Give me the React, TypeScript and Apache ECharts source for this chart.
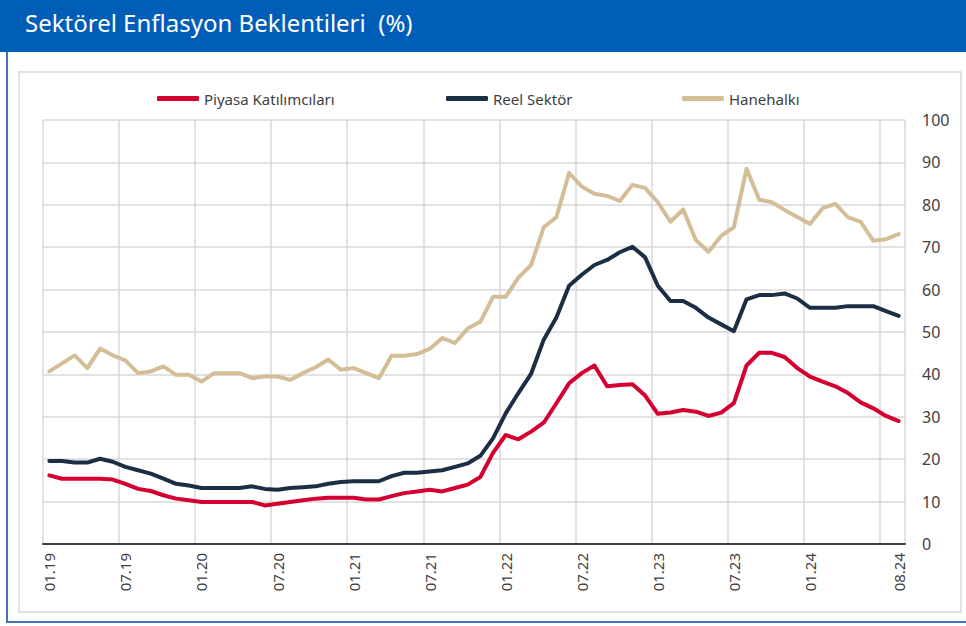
import React, { useEffect, useRef } from "react";
import * as echarts from "echarts";

const titleText = "Sektörel Enflasyon Beklentileri  (%)";

const categories = [
  "01.19","02.19","03.19","04.19","05.19","06.19","07.19","08.19","09.19","10.19","11.19","12.19",
  "01.20","02.20","03.20","04.20","05.20","06.20","07.20","08.20","09.20","10.20","11.20","12.20",
  "01.21","02.21","03.21","04.21","05.21","06.21","07.21","08.21","09.21","10.21","11.21","12.21",
  "01.22","02.22","03.22","04.22","05.22","06.22","07.22","08.22","09.22","10.22","11.22","12.22",
  "01.23","02.23","03.23","04.23","05.23","06.23","07.23","08.23","09.23","10.23","11.23","12.23",
  "01.24","02.24","03.24","04.24","05.24","06.24","07.24","08.24",
];

const shownLabels = [
  "01.19","07.19","01.20","07.20","01.21","07.21","01.22","07.22","01.23","07.23","01.24","08.24",
];

const yTicks = [0, 10, 20, 30, 40, 50, 60, 70, 80, 90, 100];

const piyasa = [
  16.2, 15.4, 15.4, 15.4, 15.4, 15.2, 14.2, 13.0, 12.5, 11.5, 10.7, 10.3,
  9.9, 9.9, 9.9, 9.9, 9.9, 9.1, 9.5, 9.9, 10.3, 10.7, 10.9, 10.9,
  10.9, 10.5, 10.5, 11.3, 12.0, 12.4, 12.8, 12.4, 13.2, 14.0, 15.8, 21.5,
  25.7, 24.7, 26.5, 28.6, 33.2, 37.9, 40.3, 42.1, 37.2, 37.5, 37.7, 35.0,
  30.7, 31.0, 31.6, 31.2, 30.2, 31.0, 33.2, 42.1, 45.1, 45.1, 44.1, 41.5,
  39.5, 38.3, 37.2, 35.6, 33.4, 32.0, 30.2, 29.0,
];

const reel = [
  19.6, 19.6, 19.2, 19.2, 20.1, 19.4, 18.2, 17.4, 16.6, 15.4, 14.2, 13.8,
  13.2, 13.2, 13.2, 13.2, 13.6, 13.0, 12.8, 13.2, 13.4, 13.6, 14.2, 14.6,
  14.8, 14.8, 14.8, 16.0, 16.8, 16.8, 17.1, 17.4, 18.2, 19.0, 20.8, 24.9,
  30.8, 35.6, 40.1, 48.2, 53.4, 60.9, 63.5, 65.8, 67.0, 68.8, 70.1, 67.6,
  60.9, 57.3, 57.3, 55.7, 53.4, 51.8, 50.2, 57.7, 58.7, 58.7, 59.1, 57.9,
  55.7, 55.7, 55.7, 56.1, 56.1, 56.1, 54.9, 53.8,
];

const hanehalki = [
  40.7, 42.6, 44.5, 41.5, 46.1, 44.5, 43.3, 40.3, 40.7, 41.9, 39.9, 39.9,
  38.3, 40.3, 40.3, 40.3, 39.1, 39.5, 39.5, 38.7, 40.3, 41.7, 43.5, 41.1,
  41.5, 40.3, 39.1, 44.4, 44.4, 44.8, 46.0, 48.6, 47.4, 50.8, 52.4, 58.3,
  58.3, 62.8, 65.8, 74.7, 77.1, 87.5, 84.3, 82.6, 82.1, 80.9, 84.7, 84.0,
  80.6, 76.0, 78.9, 71.7, 68.9, 72.7, 74.7, 88.5, 81.2, 80.6, 78.8, 77.1,
  75.5, 79.2, 80.2, 77.1, 76.0, 71.5, 71.9, 73.1,
];

const seriesNames = ["Piyasa Katılımcıları", "Reel Sektör", "Hanehalkı"];
const seriesColors = ["#D5002F", "#1C2E44", "#D4BE97"];
const seriesData = [piyasa, reel, hanehalki];

const FONT = "'Noto Sans', 'Open Sans', sans-serif";

export default function App() {
  const ref = useRef<HTMLDivElement>(null);

  useEffect(() => {
    if (!ref.current) return;
    const chart = echarts.init(ref.current, null, { renderer: "svg" });
    const legendLefts = [152, 441, 677];
    chart.setOption({
      animation: false,
      backgroundColor: "#ffffff",
      graphic: [
        { type: "rect", shape: { x: 0, y: 0, width: 966, height: 52 }, style: { fill: "#005EB8" }, silent: true },
        {
          type: "text",
          left: 25,
          top: 10,
          style: { text: titleText, fill: "#ffffff", font: `24px ${FONT}` },
          silent: true,
        },
        { type: "line", shape: { x1: 7, y1: 52, x2: 7, y2: 622 }, style: { stroke: "#4472C4", lineWidth: 2 }, silent: true },
        { type: "line", shape: { x1: 6, y1: 622, x2: 966, y2: 622 }, style: { stroke: "#4472C4", lineWidth: 2 }, silent: true },
        {
          type: "rect",
          shape: { x: 19, y: 72, width: 942, height: 540 },
          style: { fill: "none", stroke: "#D9D9D9", lineWidth: 1.5 },
          silent: true,
          z: -1,
        },
      ],
      legend: seriesNames.map((name, i) => ({
        data: [name],
        left: legendLefts[i],
        top: 86,
        icon: "roundRect",
        itemWidth: 42,
        itemHeight: 5,
        textStyle: { fontFamily: FONT, fontSize: 15, color: "#404040" },
        selectedMode: false,
      })),
      grid: { left: 43, right: 61, top: 120, bottom: 82, containLabel: false },
      xAxis: {
        type: "category",
        data: categories,
        boundaryGap: true,
        axisLine: { show: true, lineStyle: { color: "#404040", width: 2 } },
        axisTick: { show: false },
        axisLabel: {
          rotate: 90,
          margin: 9,
          fontFamily: FONT,
          fontSize: 15,
          color: "#404040",
          interval: (index: number, value: string) => shownLabels.includes(value),
        },
        splitLine: {
          show: true,
          interval: (index: number) => index % 6 === 0,
          lineStyle: { color: "#D9D9D9", width: 1.5 },
        },
      },
      yAxis: {
        type: "value",
        position: "right",
        min: yTicks[0],
        max: yTicks[yTicks.length - 1],
        interval: 10,
        axisLine: { show: false },
        axisTick: { show: false },
        axisLabel: { margin: 17, fontFamily: FONT, fontSize: 16, color: "#404040" },
        splitLine: { show: true, lineStyle: { color: "#D9D9D9", width: 1.5 } },
      },
      series: seriesNames.map((name, i) => ({
        name,
        type: "line",
        data: seriesData[i],
        symbol: "none",
        smooth: false,
        lineStyle: { color: seriesColors[i], width: 4, cap: "round", join: "round" },
        itemStyle: { color: seriesColors[i] },
        z: 3 - i,
      })),
    });
    return () => chart.dispose();
  }, []);

  return (
    <div
      ref={ref}
      style={{ position: "fixed", left: 0, top: 0, width: 966, height: 626, background: "#fff" }}
    />
  );
}
